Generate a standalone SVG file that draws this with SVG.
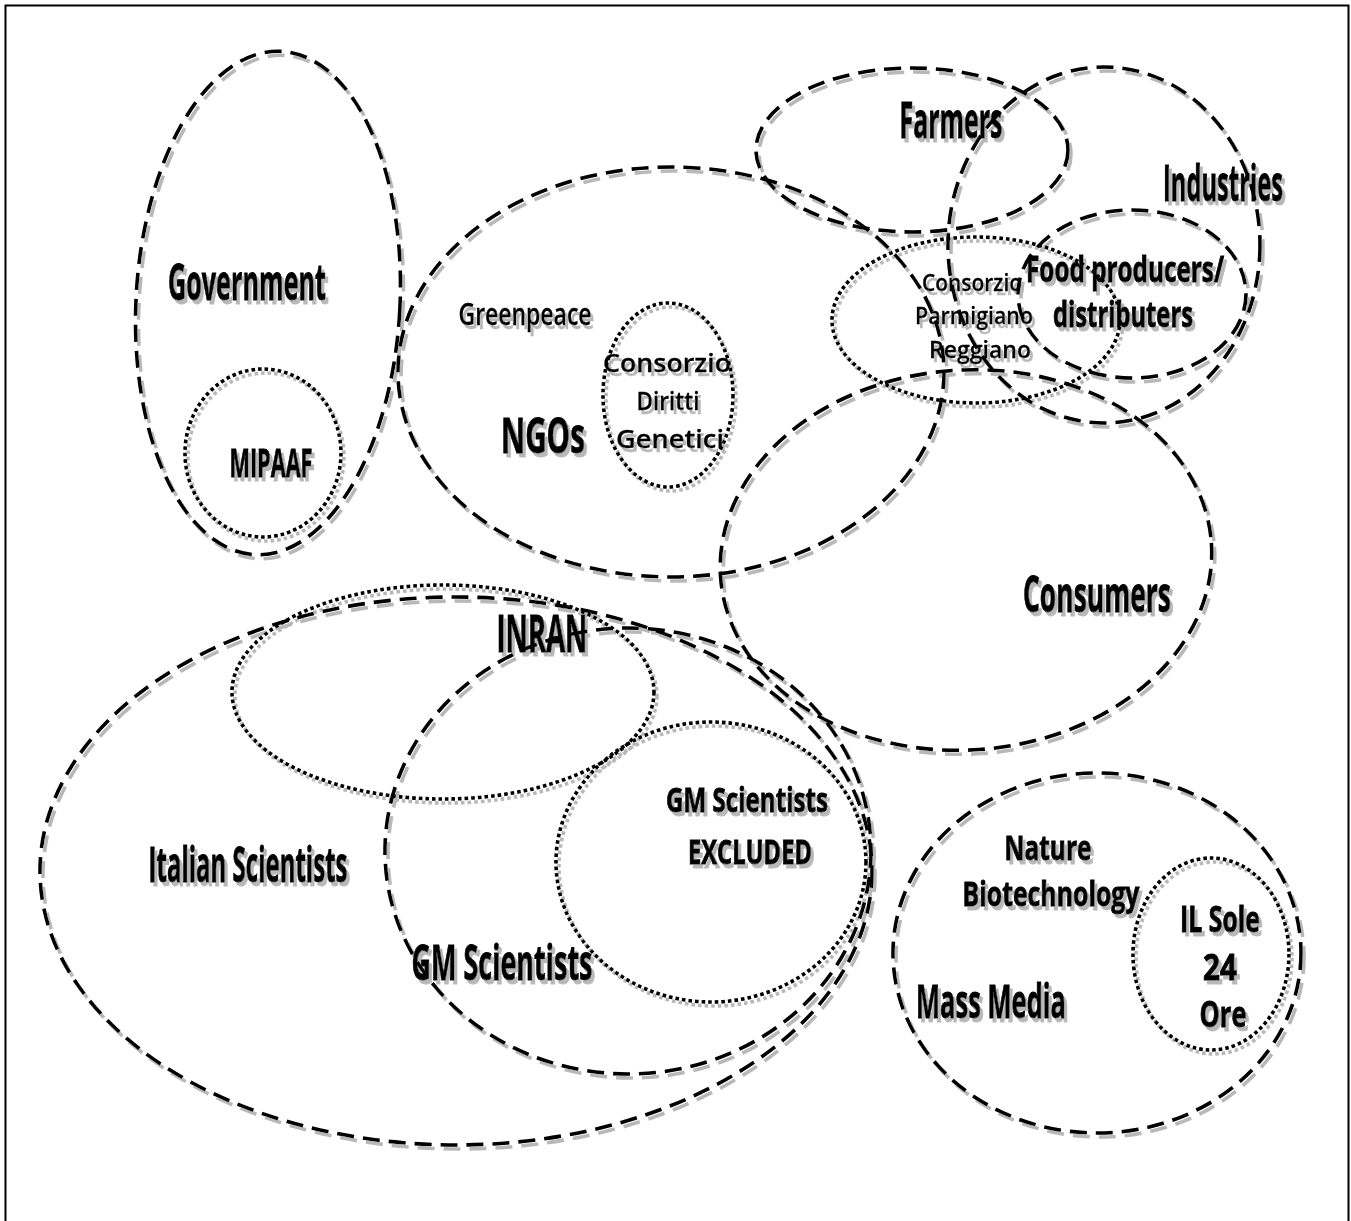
<svg xmlns="http://www.w3.org/2000/svg" width="1351" height="1221" viewBox="0 0 1351 1221">
<defs>
<filter id="sh" x="-5%" y="-5%" width="110%" height="110%">
<feOffset in="SourceAlpha" dx="3" dy="4" result="o"/>
<feFlood flood-color="#b8b8b8"/>
<feComposite in2="o" operator="in" result="s"/>
<feMerge><feMergeNode in="s"/><feMergeNode in="SourceGraphic"/></feMerge>
</filter>
<style>
.da{fill:none;stroke:#000;stroke-width:3.6;stroke-dasharray:17 9}
.do{fill:none;stroke:#000;stroke-width:3.6;stroke-dasharray:3.6 3}
.b{font-family:"Open Sans","Noto Sans",sans-serif;font-weight:700;fill:#000;stroke:#000;stroke-width:0.9;text-anchor:middle}
.r{font-family:"Open Sans","Noto Sans",sans-serif;font-weight:600;fill:#000;stroke:#000;stroke-width:0.3;text-anchor:middle}
</style>
</defs>
<rect x="0" y="0" width="1351" height="1221" fill="#fff"/>
<rect x="5.5" y="5.5" width="1343" height="1225" fill="none" stroke="#000" stroke-width="2"/>
<g filter="url(#sh)">
<g id="government">
<ellipse class="da" cx="268" cy="303" rx="132" ry="252" transform="rotate(3 268 303)"/>
<text class="b" x="247" y="300" font-size="50" textLength="158" lengthAdjust="spacingAndGlyphs">Government</text>
</g>
<g id="mipaaf">
<ellipse class="do" cx="263" cy="453" rx="78" ry="84"/>
<text class="b" x="271" y="477" font-size="40" textLength="83" lengthAdjust="spacingAndGlyphs">MIPAAF</text>
</g>
<g id="ngos">
<ellipse class="da" cx="671" cy="372" rx="273" ry="205"/>
<text class="b" x="543" y="453" font-size="48" textLength="84" lengthAdjust="spacingAndGlyphs">NGOs</text>
<text class="r" x="525" y="325" font-size="30" textLength="133" lengthAdjust="spacingAndGlyphs">Greenpeace</text>
</g>
<g id="consorzio-diritti-genetici">
<ellipse class="do" cx="668" cy="395" rx="65" ry="92"/>
<text class="r" x="667" y="372" font-size="25" textLength="128" lengthAdjust="spacingAndGlyphs">Consorzio</text>
<text class="r" x="668" y="410" font-size="25" textLength="63" lengthAdjust="spacingAndGlyphs">Diritti</text>
<text class="r" x="670" y="448" font-size="25" textLength="108" lengthAdjust="spacingAndGlyphs">Genetici</text>
</g>
<g id="farmers">
<ellipse class="da" cx="912" cy="150" rx="156" ry="82"/>
<text class="b" x="951" y="138" font-size="50" textLength="103" lengthAdjust="spacingAndGlyphs">Farmers</text>
</g>
<g id="industries">
<ellipse class="da" cx="1104" cy="245" rx="156" ry="178"/>
<text class="b" x="1223" y="201" font-size="50" textLength="120" lengthAdjust="spacingAndGlyphs">Industries</text>
</g>
<g id="food-producers">
<ellipse class="da" cx="1132" cy="294" rx="114" ry="84"/>
<text class="b" x="1125" y="282" font-size="35" textLength="198" lengthAdjust="spacingAndGlyphs">Food producers/</text>
<text class="b" x="1123" y="327" font-size="35" textLength="140" lengthAdjust="spacingAndGlyphs">distributers</text>
</g>
<g id="consorzio-parmigiano">
<ellipse class="do" cx="976" cy="320" rx="144" ry="83"/>
<text class="r" x="972" y="291" font-size="24" textLength="100" lengthAdjust="spacingAndGlyphs">Consorzio</text>
<text class="r" x="974" y="324" font-size="24" textLength="118" lengthAdjust="spacingAndGlyphs">Parmigiano</text>
<text class="r" x="980" y="358" font-size="24" textLength="102" lengthAdjust="spacingAndGlyphs">Reggiano</text>
</g>
<g id="consumers">
<ellipse class="da" cx="966" cy="560" rx="246" ry="190" transform="rotate(-4 966 560)"/>
<text class="b" x="1097" y="612" font-size="50" textLength="148" lengthAdjust="spacingAndGlyphs">Consumers</text>
</g>
<g id="italian-scientists">
<ellipse class="da" cx="456" cy="871" rx="416" ry="274"/>
<text class="b" x="248" y="882" font-size="48" textLength="199" lengthAdjust="spacingAndGlyphs">Italian Scientists</text>
</g>
<g id="inran">
<ellipse class="do" cx="443" cy="692" rx="211" ry="107"/>
<text class="b" x="542" y="652" font-size="52" textLength="91" lengthAdjust="spacingAndGlyphs">INRAN</text>
</g>
<g id="gm-scientists">
<ellipse class="da" cx="628" cy="851" rx="243" ry="223"/>
<text class="b" x="502" y="980" font-size="48" textLength="181" lengthAdjust="spacingAndGlyphs">GM Scientists</text>
</g>
<g id="gm-scientists-excluded">
<ellipse class="do" cx="711" cy="862" rx="155" ry="140"/>
<text class="b" x="747" y="812" font-size="34" textLength="162" lengthAdjust="spacingAndGlyphs">GM Scientists</text>
<text class="b" x="750" y="864" font-size="34" textLength="124" lengthAdjust="spacingAndGlyphs">EXCLUDED</text>
</g>
<g id="mass-media">
<ellipse class="da" cx="1097" cy="953" rx="204" ry="180"/>
<text class="b" x="991" y="1018" font-size="46" textLength="150" lengthAdjust="spacingAndGlyphs">Mass Media</text>
<text class="b" x="1048" y="860" font-size="34" textLength="87" lengthAdjust="spacingAndGlyphs">Nature</text>
<text class="b" x="1051" y="906" font-size="34" textLength="177" lengthAdjust="spacingAndGlyphs">Biotechnology</text>
</g>
<g id="il-sole-24-ore">
<ellipse class="do" cx="1211" cy="954" rx="78" ry="96"/>
<text class="b" x="1220" y="932" font-size="36" textLength="80" lengthAdjust="spacingAndGlyphs">IL Sole</text>
<text class="b" x="1220" y="980" font-size="36" textLength="34" lengthAdjust="spacingAndGlyphs">24</text>
<text class="b" x="1223" y="1027" font-size="36" textLength="47" lengthAdjust="spacingAndGlyphs">Ore</text>
</g>
<g id="connectors"/>
</g>
</svg>
